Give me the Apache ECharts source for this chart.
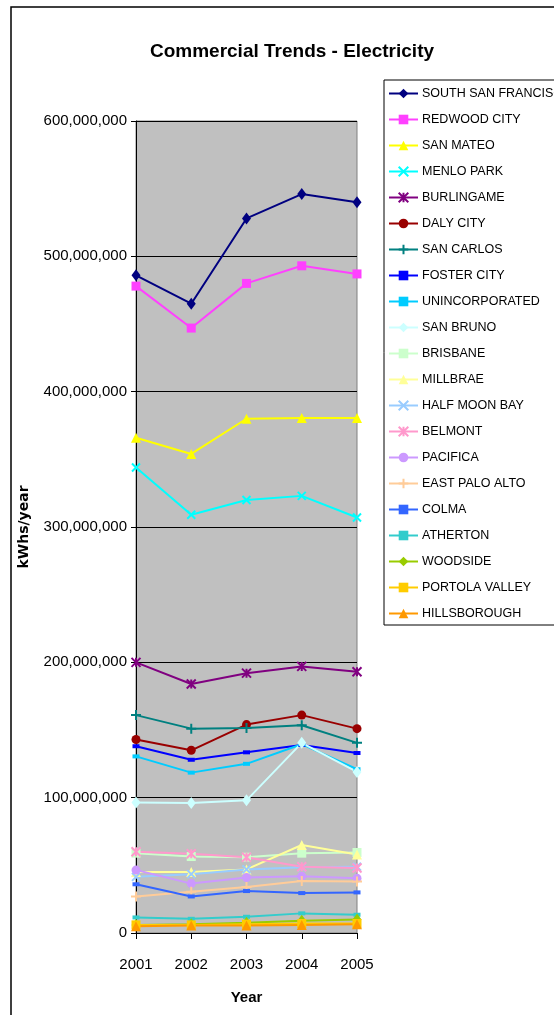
<!DOCTYPE html>
<html>
<head>
<meta charset="utf-8">
<script src="https://cdn.jsdelivr.net/npm/echarts@6/dist/echarts.min.js"></script>
<style>
  html, body { margin: 0; padding: 0; background: #fff; }
  #chart { width: 554px; height: 1015px; }
</style>
</head>
<body>
<div id="chart"></div>
<script>
// data (kWh per year)
const years = ['2001', '2002', '2003', '2004', '2005']
const southSanFrancisco = [486e6, 465e6, 528e6, 546e6, 540e6]
const redwoodCity = [478e6, 447e6, 480e6, 493e6, 487e6]
const sanMateo = [366e6, 354e6, 380e6, 380.5e6, 380.5e6]
const menloPark = [344e6, 309e6, 320e6, 323e6, 307e6]
const burlingame = [200e6, 184e6, 192e6, 197e6, 193e6]
const dalyCity = [143e6, 135e6, 154e6, 161e6, 151e6]
const sanCarlos = [161e6, 151e6, 151.5e6, 153.5e6, 140.5e6]
const fosterCity = [138e6, 128e6, 133.5e6, 139e6, 133e6]
const unincorporated = [130.5e6, 118.5e6, 125e6, 139.5e6, 121e6]
const sanBruno = [96.5e6, 96e6, 98e6, 140.5e6, 119e6]
const brisbane = [59e6, 56.5e6, 56e6, 59e6, 59.5e6]
const millbrae = [45e6, 45e6, 47e6, 65e6, 58e6]
const halfMoonBay = [41.5e6, 43.5e6, 47e6, 48.5e6, 49e6]
const belmont = [60e6, 58.5e6, 56e6, 49e6, 48e6]
const pacifica = [46.5e6, 36.5e6, 41e6, 42e6, 40.5e6]
const eastPaloAlto = [27e6, 30.5e6, 34e6, 38.5e6, 38e6]
const colma = [36e6, 27e6, 31e6, 29.5e6, 30e6]
const atherton = [11.5e6, 10.5e6, 12e6, 14.5e6, 13.5e6]
const woodside = [6e6, 6.5e6, 7.5e6, 9e6, 10e6]
const portolaValley = [6e6, 6e6, 6.5e6, 7e6, 7e6]
const hillsborough = [5e6, 5.5e6, 5.5e6, 6e6, 6.5e6]

const cities = [
  ['SOUTH SAN FRANCISCO', southSanFrancisco],
  ['REDWOOD CITY', redwoodCity],
  ['SAN MATEO', sanMateo],
  ['MENLO PARK', menloPark],
  ['BURLINGAME', burlingame],
  ['DALY CITY', dalyCity],
  ['SAN CARLOS', sanCarlos],
  ['FOSTER CITY', fosterCity],
  ['UNINCORPORATED', unincorporated],
  ['SAN BRUNO', sanBruno],
  ['BRISBANE', brisbane],
  ['MILLBRAE', millbrae],
  ['HALF MOON BAY', halfMoonBay],
  ['BELMONT', belmont],
  ['PACIFICA', pacifica],
  ['EAST PALO ALTO', eastPaloAlto],
  ['COLMA', colma],
  ['ATHERTON', atherton],
  ['WOODSIDE', woodside],
  ['PORTOLA VALLEY', portolaValley],
  ['HILLSBOROUGH', hillsborough]
]

// marker styles (excel defaults)
const X = 'path://M0,0L10,10M10,0L0,10'
const STAR = 'path://M0,0L10,10M10,0L0,10M5,0L5,10'
const PLUS = 'path://M5,0L5,10M0,5L10,5'
const styles = [
  { color: '#000080', symbol: 'diamond', size: [9, 12] },
  { color: '#FF40FF', symbol: 'rect', size: 9 },
  { color: '#FFFF00', symbol: 'triangle', size: 10 },
  { color: '#00FFFF', symbol: X, size: 8, stroke: true },
  { color: '#800080', symbol: STAR, size: 9, stroke: true },
  { color: '#990000', symbol: 'circle', size: 9 },
  { color: '#008080', symbol: PLUS, size: 10, stroke: true },
  { color: '#0000FF', symbol: 'rect', size: [7, 4] },
  { color: '#00CCFF', symbol: 'rect', size: [7, 4] },
  { color: '#CCFFFF', symbol: 'diamond', size: [9, 12] },
  { color: '#CCFFCC', symbol: 'rect', size: 9 },
  { color: '#FFFF99', symbol: 'triangle', size: 10 },
  { color: '#99CCFF', symbol: X, size: 8, stroke: true },
  { color: '#FF99CC', symbol: STAR, size: 9, stroke: true },
  { color: '#CC99FF', symbol: 'circle', size: 9 },
  { color: '#FFCC99', symbol: PLUS, size: 10, stroke: true },
  { color: '#3366FF', symbol: 'rect', size: [7, 4] },
  { color: '#33CCCC', symbol: 'rect', size: [7, 4] },
  { color: '#99CC00', symbol: 'diamond', size: [9, 12] },
  { color: '#FFCC00', symbol: 'rect', size: 9 },
  { color: '#FF9900', symbol: 'triangle', size: 10 }
]

const FONT = 'Liberation Sans'

const series = cities.map(([name, data], i) => {
  const s = styles[i]
  return {
    name: name,
    type: 'line',
    data: data,
    symbol: s.symbol,
    symbolSize: s.size,
    showAllSymbol: true,
    animation: false,
    lineStyle: { color: s.color, width: 2 },
    itemStyle: s.stroke
      ? { color: s.color, borderColor: s.color, borderWidth: 2 }
      : { color: s.color, borderWidth: 0 },
    emphasis: { disabled: true }
  }
})

const chart = echarts.init(document.getElementById('chart'))
chart.setOption({
  animation: false,
  backgroundColor: '#fff',
  title: {
    text: 'Commercial Trends - Electricity',
    left: 287,
    textAlign: 'center',
    top: 37,
    textStyle: { fontFamily: FONT, fontSize: 19, fontWeight: 'bold', color: '#000' }
  },
  legend: {
    orient: 'vertical',
    left: 384,
    top: 80,
    padding: [7, 40, 5, 4],
    itemGap: 13,
    itemWidth: 29,
    itemHeight: 12,
    backgroundColor: '#fff',
    borderColor: '#000',
    borderWidth: 1,
    textStyle: { fontFamily: FONT, fontSize: 12.5, color: '#000', padding: [0, 0, 0, -1] },
    data: cities.map(c => c[0])
  },
  grid: {
    left: 136,
    right: 197,
    top: 121,
    bottom: 82,
    show: true,
    backgroundColor: '#C0C0C0',
    borderColor: '#808080',
    borderWidth: 1,
    containLabel: false
  },
  xAxis: {
    type: 'category',
    data: years,
    boundaryGap: false,
    name: 'Year',
    nameLocation: 'middle',
    nameGap: 57,
    nameTextStyle: { fontFamily: FONT, fontSize: 15, fontWeight: 'bold', color: '#000' },
    axisLine: { show: true, lineStyle: { color: '#000', width: 1 } },
    axisTick: { show: true, length: 6, lineStyle: { color: '#000' } },
    axisLabel: { fontFamily: FONT, fontSize: 15, color: '#000', margin: 24 },
    splitLine: { show: false }
  },
  yAxis: {
    type: 'value',
    min: 0,
    max: 600e6,
    interval: 100e6,
    name: 'kWhs/year',
    nameLocation: 'middle',
    nameGap: 105,
    nameRotate: 90,
    nameTextStyle: { fontFamily: 'DejaVu Sans', fontSize: 14, fontWeight: 'bold', color: '#000' },
    axisLine: { show: true, lineStyle: { color: '#000', width: 1 } },
    axisTick: { show: true, length: 5, lineStyle: { color: '#000' } },
    axisLabel: {
      fontFamily: FONT,
      fontSize: 15,
      color: '#000',
      margin: 9,
      formatter: v => v.toLocaleString('en-US')
    },
    splitLine: { show: true, lineStyle: { color: '#000', width: 1 } }
  },
  graphic: [
    {
      type: 'rect',
      shape: { x: 11, y: 7, width: 700, height: 1200 },
      style: { fill: 'none', stroke: '#000', lineWidth: 1.5 },
      silent: true,
      z: 100
    }
  ],
  series: series
})
</script>
</body>
</html>
